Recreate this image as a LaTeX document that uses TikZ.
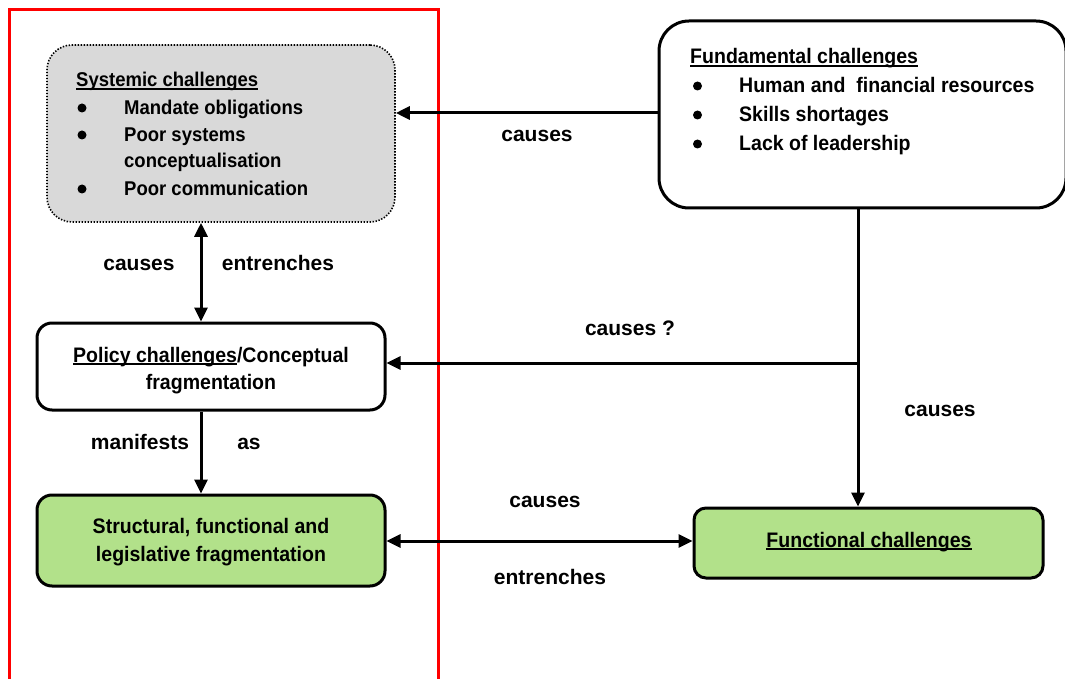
\documentclass[tikz,border=0pt]{standalone}
\usepackage{fontspec}
\setmainfont{Liberation Sans}
\newfontfamily\narrowfont{Liberation Sans}[FakeStretch=0.93]
\usetikzlibrary{arrows.meta}
\definecolor{boxgray}{RGB}{217,217,217}
\definecolor{boxgreen}{RGB}{178,225,138}
\definecolor{framered}{RGB}{255,0,0}
\newcommand\myul[1]{\setbox0=\hbox{#1}\rlap{\rule[-2.6pt]{\wd0}{1.6pt}}\box0}
\begin{document}
\begin{tikzpicture}[x=1pt,y=-1pt,
  txt/.style={inner sep=0pt,font=\narrowfont\fontsize{21}{28}\bfseries\selectfont},
  stxt/.style={inner sep=0pt,font=\narrowfont\fontsize{19.9}{27}\bfseries\selectfont},
  lbl/.style={inner sep=0pt,font=\fontsize{21}{28}\bfseries\selectfont},
  bul/.style={circle,fill=black,inner sep=0pt,minimum size=9pt},
  boxbase/.style={draw=black,line width=3pt,inner sep=0pt},
  conn/.style={line width=3pt,-{Triangle[length=14pt,width=13pt]}},
  dconn/.style={line width=3pt,{Triangle[length=14pt,width=13pt]}-{Triangle[length=14pt,width=13pt]}}]
\useasboundingbox (0,0) rectangle (1065,679);
% red frame
\draw[framered,line width=3pt] (9,690) -- (9,10) -- (438,10) -- (438,690);
% boxes
\node[boxbase,line width=1.6pt,dash pattern=on 1.4pt off 1.6pt,fill=boxgray,rounded corners=25pt,
  minimum width=348pt,minimum height=177pt] (sys) at (221,133.5) {};
\node[boxbase,fill=white,rounded corners=30pt,minimum width=407pt,minimum height=187pt] (fund) at (862.5,114.5) {};
\node[boxbase,fill=white,rounded corners=15pt,minimum width=348pt,minimum height=87pt] (pol) at (211,366.5) {};
\node[boxbase,fill=boxgreen,rounded corners=15pt,minimum width=348pt,minimum height=91pt] (str) at (211,540.5) {};
\node[boxbase,fill=boxgreen,rounded corners=12pt,minimum width=349pt,minimum height=70pt] (fun) at (868.5,543) {};
% systemic text
\node[stxt,anchor=base west] (s0) at (76,87) {\myul{Systemic challenges}};
\node[bul] (s1) at (82,108) {};
\node[stxt,anchor=base west] (s1t) at (124,115) {Mandate obligations};
\node[bul] (s2) at (82,135) {};
\node[stxt,anchor=base west] (s2t) at (124,142) {Poor systems};
\node[stxt,anchor=base west] (s3t) at (124,168) {conceptualisation};
\node[bul] (s4) at (82,189) {};
\node[stxt,anchor=base west] (s4t) at (124,196) {Poor communication};
% fundamental text
\node[txt,anchor=base west] (f0) at (690,64) {\myul{Fundamental challenges}};
\node[bul] (f1) at (697.5,86) {};
\node[txt,anchor=base west] (f1t) at (739,93) {Human and\ \ financial resources};
\node[bul] (f2) at (697.5,115) {};
\node[txt,anchor=base west] (f2t) at (739,122) {Skills shortages};
\node[bul] (f3) at (697.5,144) {};
\node[txt,anchor=base west] (f3t) at (739,151) {Lack of leadership};
% policy text
\node[txt,anchor=base] (p1) at (211,362) {\myul{Policy challenges}/Conceptual};
\node[txt,anchor=base] (p2) at (211,389) {fragmentation};
% structural text
\node[txt,anchor=base] (t1) at (211,533) {Structural, functional and};
\node[txt,anchor=base] (t2) at (211,561) {legislative fragmentation};
% functional text
\node[txt,anchor=base] (fc) at (869,547) {\myul{Functional challenges}};
% coordinates
\coordinate (j1) at (858,363);
% connectors
\draw[conn] (fund.west |- 0,113) -- (sys.east |- 0,113);
\draw[dconn] (201,0 |- sys.south) -- (201,0 |- pol.north);
\draw[line width=3pt] (858,0 |- fund.south) -- (j1);
\draw[conn] (j1) -- (858,0 |- fun.north);
\draw[conn] (j1) -- (pol.east |- j1);
\draw[conn] (201,0 |- pol.south) -- (201,0 |- str.north);
\draw[dconn] (str.east |- 0,541) -- (fun.west |- 0,541);
% labels
\node[lbl,anchor=base] (l1) at (537,142) {causes};
\node[lbl,anchor=base] (l2) at (139,270) {causes};
\node[lbl,anchor=base] (l3) at (278,270) {entrenches};
\node[lbl,anchor=base] (l4) at (630,335) {causes ?};
\node[lbl,anchor=base] (l5) at (940,416) {causes};
\node[lbl,anchor=base] (l6) at (140,449) {manifests};
\node[lbl,anchor=base] (l7) at (249,449) {as};
\node[lbl,anchor=base] (l8) at (545,507) {causes};
\node[lbl,anchor=base] (l9) at (550,584) {entrenches};
\end{tikzpicture}
\end{document}
